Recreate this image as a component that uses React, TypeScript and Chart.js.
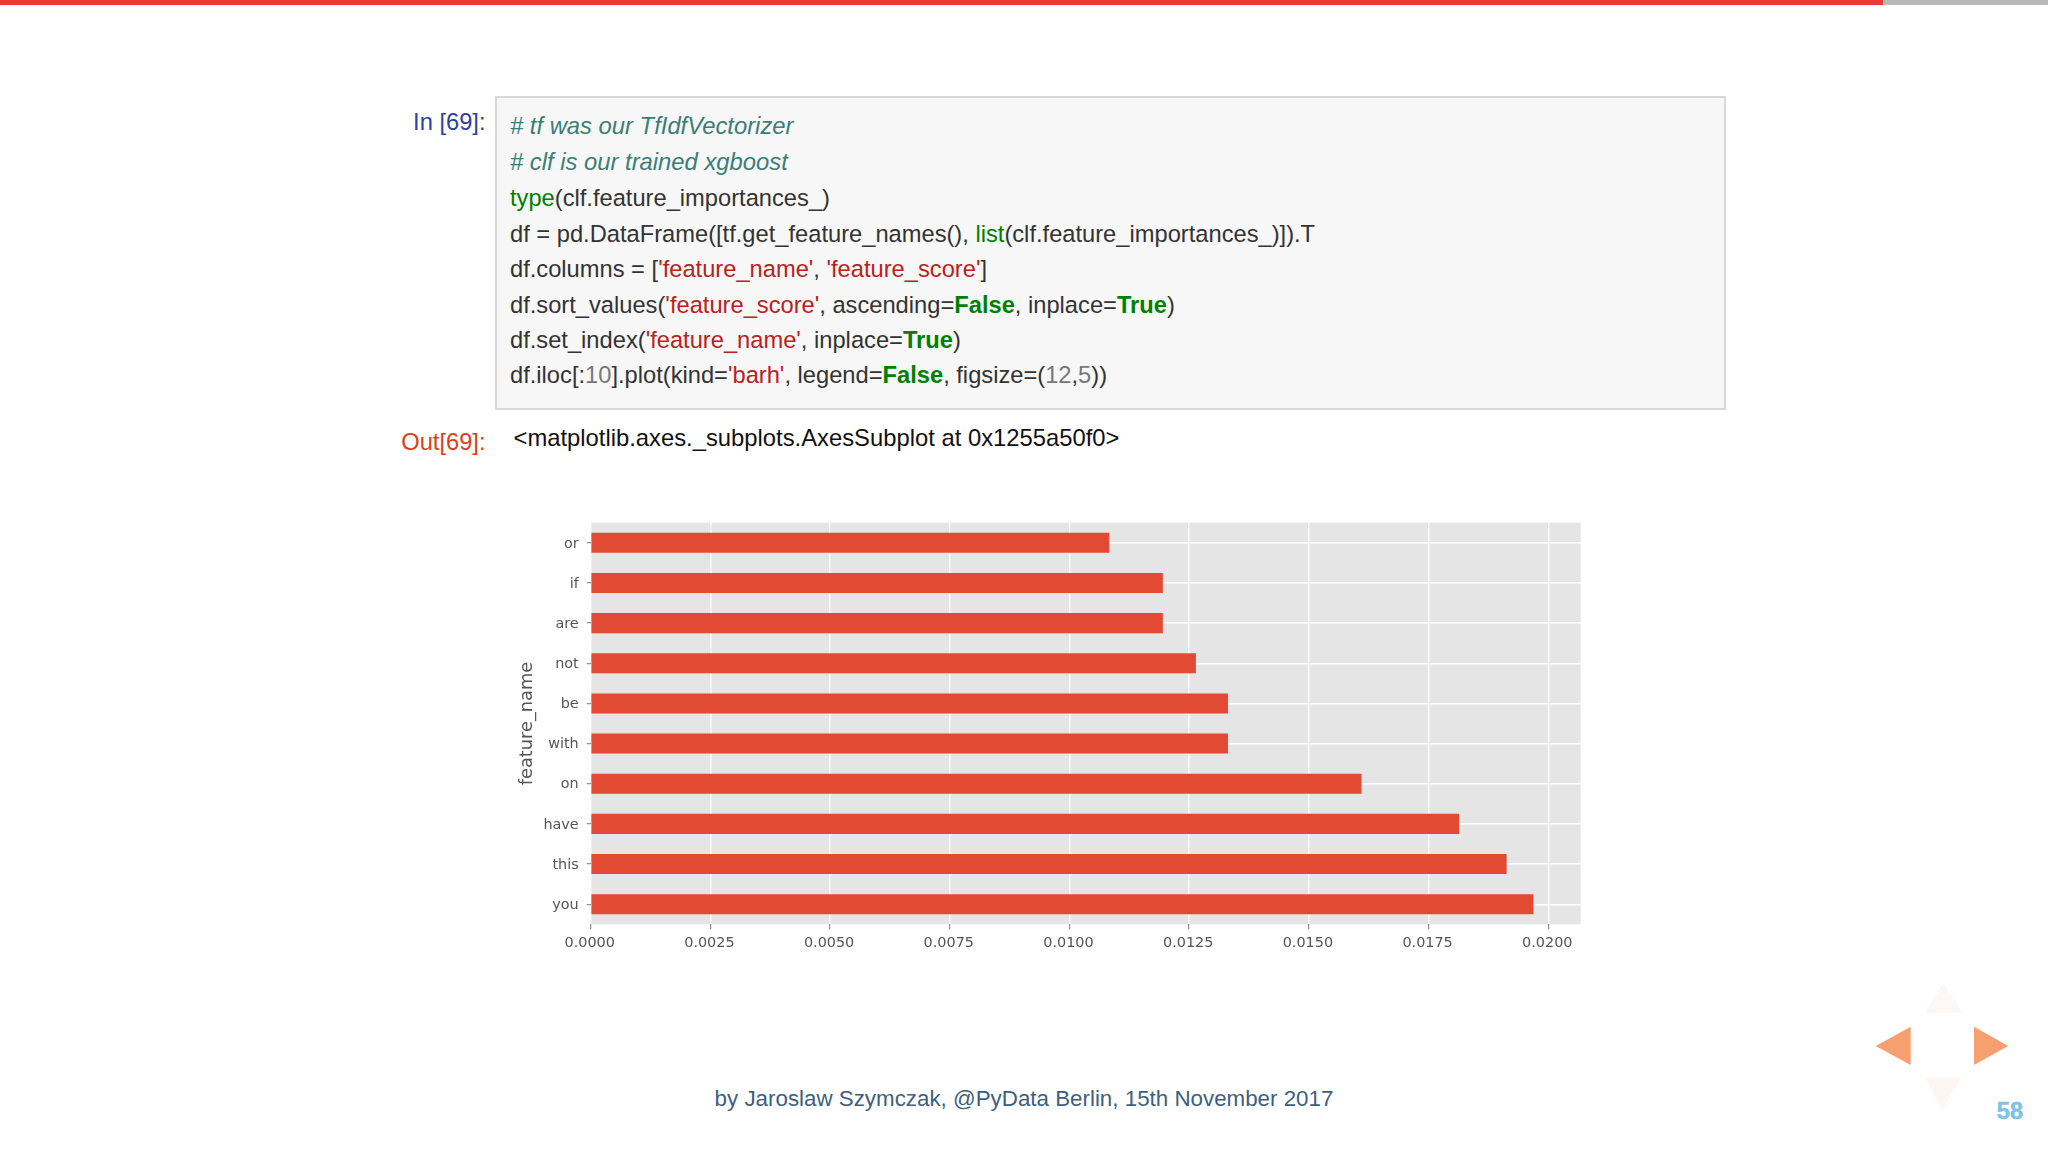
import React, { useEffect, useRef } from "react";
import { Chart, registerables } from "chart.js";

Chart.register(...registerables);

const categories = ["or", "if", "are", "not", "be", "with", "on", "have", "this", "you"];
const featureScores = [0.01083, 0.01195, 0.01195, 0.01264, 0.01331, 0.01331, 0.0161, 0.01814, 0.01913, 0.01969];
const xMax = 0.020677;
const xStep = 0.0025;
const yAxisTitle = "feature_name";
const footer = "by Jaroslaw Szymczak, @PyData Berlin, 15th November 2017";
const pageNumber = "58";
const outputText = "<matplotlib.axes._subplots.AxesSubplot at 0x1255a50f0>";

const C = { t: "#333333", c: "#3b7d78", k: "#008000", s: "#ba2121", n: "#777777" };
type Tok = [string, keyof typeof C, boolean?];
const codeLines: Tok[][] = [
  [["# tf was our TfIdfVectorizer", "c"]],
  [["# clf is our trained xgboost", "c"]],
  [["type", "k"], ["(clf.feature_importances_)", "t"]],
  [["df = pd.DataFrame([tf.get_feature_names(), ", "t"], ["list", "k"], ["(clf.feature_importances_)]).T", "t"]],
  [["df.columns = [", "t"], ["'feature_name'", "s"], [", ", "t"], ["'feature_score'", "s"], ["]", "t"]],
  [["df.sort_values(", "t"], ["'feature_score'", "s"], [", ascending=", "t"], ["False", "k", true], [", inplace=", "t"], ["True", "k", true], [")", "t"]],
  [["df.set_index(", "t"], ["'feature_name'", "s"], [", inplace=", "t"], ["True", "k", true], [")", "t"]],
  [["df.iloc[:", "t"], ["10", "n"], ["].plot(kind=", "t"], ["'barh'", "s"], [", legend=", "t"], ["False", "k", true], [", figsize=(", "t"], ["12", "n"], [",", "t"], ["5", "n"], ["))", "t"]],
];

const sans = '"Liberation Sans", sans-serif';
const abs = (l: number, t: number, extra: React.CSSProperties = {}): React.CSSProperties => ({
  position: "absolute", left: l, top: t, whiteSpace: "pre", fontFamily: sans, ...extra,
});

const panelPlugin = {
  id: "panel",
  beforeDraw(chart: any) {
    const { ctx, chartArea: a } = chart;
    ctx.save();
    ctx.fillStyle = "#e5e5e5";
    ctx.fillRect(a.left, a.top, a.right - a.left, a.bottom - a.top);
    ctx.restore();
  },
};

const zeroPadding = (s: any) => {
  s.paddingTop = 0;
  s.paddingBottom = 0;
  s.paddingLeft = 0;
  s.paddingRight = 0;
};

export default function App() {
  const ref = useRef<HTMLCanvasElement | null>(null);
  useEffect(() => {
    document.body.style.margin = "0";
    document.body.style.background = "#ffffff";
    const chart = new Chart(ref.current as HTMLCanvasElement, {
      type: "bar",
      data: {
        labels: categories,
        datasets: [{
          data: featureScores,
          backgroundColor: "#e24a33",
          barPercentage: 0.5,
          categoryPercentage: 1,
          borderWidth: 0,
        }],
      },
      options: {
        indexAxis: "y",
        animation: false,
        responsive: false,
        devicePixelRatio: 1,
        layout: { padding: { top: 12.7, right: 19.3, left: 0, bottom: 0 } },
        plugins: { legend: { display: false }, tooltip: { enabled: false } },
        scales: {
          x: {
            type: "linear",
            min: 0,
            max: xMax,
            afterFit(s: any) { s.height = 35.7; zeroPadding(s); },
            border: { display: false },
            grid: { color: "#ffffff", lineWidth: 1.4, tickColor: "#777777", tickWidth: 1, tickLength: 5 },
            ticks: {
              stepSize: xStep,
              includeBounds: false,
              maxRotation: 0,
              padding: 5,
              labelOffset: -1,
              color: "#555555",
              font: { family: "DejaVu Sans", size: 14.4 },
              callback: (v: any) => Number(v).toFixed(4),
            },
          },
          y: {
            afterFit(s: any) { s.width = 90.7; zeroPadding(s); },
            border: { display: false },
            grid: { offset: false, color: "#ffffff", lineWidth: 1.4, tickColor: "#777777", tickWidth: 1, tickLength: 4 },
            ticks: {
              padding: 8,
              labelOffset: 1,
              color: "#555555",
              font: { family: "DejaVu Sans", size: 14.4 },
            },
            title: {
              display: true,
              text: yAxisTitle,
              color: "#555555",
              font: { family: "DejaVu Sans", size: 17.8 },
              padding: { top: 17, bottom: 0 },
            },
          },
        },
      },
      plugins: [panelPlugin],
    } as any);
    return () => chart.destroy();
  }, []);

  return (
    <div style={{ position: "absolute", left: 0, top: 0, width: 2048, height: 1152, overflow: "hidden", background: "#fff" }}>
      <div style={{ position: "absolute", left: 0, top: 0, width: 1883, height: 4.5, background: "#e83a36" }} />
      <div style={{ position: "absolute", left: 1883, top: 0, width: 165, height: 4.5, background: "#b9b9b9" }} />

      <div style={abs(0, 107, { width: 485.5, textAlign: "right", fontSize: 23.7, lineHeight: "30px", color: "#303f9f" })}>In [69]:</div>
      <div style={{ position: "absolute", left: 495, top: 96, width: 1231, height: 314, boxSizing: "border-box", background: "#f7f7f7", border: "2px solid #d8d8d8" }} />
      {codeLines.map((toks, i) => (
        <div key={i} style={abs(510, 112.6 + i * 35.4 - (i < 2 ? 1.3 : 0), { fontSize: i < 2 ? 23.8 : 23.7, lineHeight: "30px" })}>
          {toks.map(([txt, col, bold], j) => (
            <span key={j} style={{ color: C[col], fontWeight: bold ? "bold" : "normal", fontStyle: col === "c" ? "italic" : "normal" }}>{txt}</span>
          ))}
        </div>
      ))}

      <div style={abs(0, 427, { width: 485.5, textAlign: "right", fontSize: 23.7, lineHeight: "30px", color: "#d84315" })}>Out[69]:</div>
      <div style={abs(513.5, 423, { fontSize: 23.8, lineHeight: "30px", color: "#111111" })}>{outputText}</div>

      <canvas ref={ref} width={1100} height={450} style={{ position: "absolute", left: 500, top: 510, width: 1100, height: 450 }} />

      <div style={abs(0, 1084, { width: 2048, textAlign: "center", fontSize: 22.35, lineHeight: "30px", color: "#3d5f7f" })}>{footer}</div>

      <svg width={2048} height={1152} style={{ position: "absolute", left: 0, top: 0, pointerEvents: "none" }}>
        <polygon points="1875.7,1046 1910.7,1026.7 1910.7,1065" fill="#f6a070" />
        <polygon points="2008.3,1046 1974,1026.7 1974,1065" fill="#f6a070" />
        <polygon points="1943,983 1925,1013 1963,1013" fill="#fdf8f5" />
        <polygon points="1942,1110 1925,1078 1961,1078" fill="#fdf6f3" />
      </svg>
      <div style={abs(1960, 1096, { width: 100, textAlign: "center", fontSize: 24, fontWeight: "bold", lineHeight: "30px", color: "#7fc3e0", WebkitTextStroke: "0.5px #7fc3e0" })}>{pageNumber}</div>
    </div>
  );
}
